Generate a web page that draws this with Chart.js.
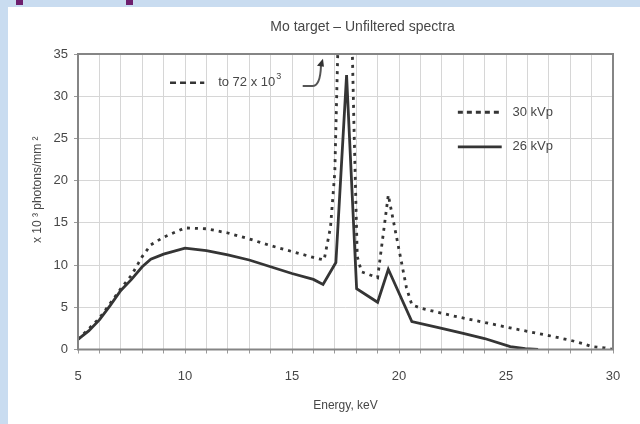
<!DOCTYPE html>
<html>
<head>
<meta charset="utf-8">
<script src="https://cdn.jsdelivr.net/npm/chart.js@4"></script>
<style>
  html, body { margin: 0; padding: 0; }
  body { width: 640px; height: 424px; background: #c9dcf0; position: relative; overflow: hidden; }
  .mark { position: absolute; top: 0; height: 5px; background: #6e1f6e; }
  #panel { position: absolute; left: 8px; top: 7px; width: 632px; height: 417px; background: #fff; }
</style>
</head>
<body>
<div class="mark" style="left:16px;width:7px"></div>
<div class="mark" style="left:126px;width:7px"></div>
<div id="panel"><canvas id="spectraChart" width="632" height="417"></canvas></div>
<script>
// 에너지(keV)와 광자 수 (x 10^3 photons/mm^2)
const energy30 = [5, 6, 7, 7.5, 8, 8.4, 9, 10, 11, 12, 13, 14, 15, 16, 16.5, 16.8, 17, 17.5, 17.9, 18.05, 18.25, 19, 19.5, 20.35, 20.6, 21, 22.5, 24, 25.5, 27, 28, 28.6, 29, 29.6, 30];
const flux30   = [1.2, 3.7, 7.2, 8.8, 11.0, 12.4, 13.3, 14.4, 14.3, 13.8, 13.1, 12.3, 11.6, 10.9, 10.6, 14.5, 21, 72, 26, 11, 9.2, 8.5, 18.3, 7.3, 5.3, 4.9, 4.0, 3.2, 2.4, 1.65, 1.1, 0.7, 0.35, 0.2, 0];

const energy26 = [5, 5.5, 6, 6.5, 7, 7.5, 8, 8.4, 9, 10, 11, 12, 13, 14, 15, 16, 16.45, 17.05, 17.55, 18.02, 19, 19.5, 20.6, 22, 23, 24, 25.2, 25.9, 26.5];
const flux26   = [1.2, 2.2, 3.5, 5.2, 7.0, 8.3, 9.8, 10.7, 11.3, 12.0, 11.7, 11.2, 10.6, 9.8, 9.0, 8.3, 7.7, 10.3, 32.5, 7.2, 5.6, 9.5, 3.3, 2.5, 1.9, 1.3, 0.35, 0.1, 0];

const seriesLabels = ['30 kVp', '26 kVp'];
const chartTitle = 'Mo target \u2013 Unfiltered spectra';
const xTitle = 'Energy, keV';
const yTitle = 'x 10 \u00B3 photons/mm \u00B2';

const TEXT = '#474747';
const LINE = '#353535';
const FONT = '"Liberation Sans", Arial, sans-serif';

const toPoints = (xs, ys) => xs.map((e, i) => ({ x: e, y: ys[i] }));

// 제목, 외곽선, 범례, 주석을 직접 그림
const decor = {
    id: 'decor',
    afterDraw(chart) {
        const { ctx, chartArea: a, scales: { x, y } } = chart;
        ctx.save();

        // 제목
        ctx.fillStyle = TEXT;
        ctx.font = `14px ${FONT}`;
        ctx.textAlign = 'center';
        ctx.textBaseline = 'middle';
        ctx.fillText(chartTitle, (a.left + a.right) / 2 + 17, 20);

        // y축 제목 (살짝 위쪽으로 치우침)
        ctx.save();
        ctx.translate(30, (a.top + a.bottom) / 2 - 12);
        ctx.rotate(-Math.PI / 2);
        ctx.font = `12px ${FONT}`;
        ctx.fillText(yTitle, 0, 0);
        ctx.restore();

        // 플롯 테두리
        ctx.strokeStyle = '#858585';
        ctx.lineWidth = 2;
        ctx.strokeRect(a.left, a.top, a.right - a.left, a.bottom - a.top);

        // 범례
        const legendRows = [{ v: 28.1, dash: [5, 4] }, { v: 24.0, dash: [] }];
        legendRows.forEach((row, i) => {
            const py = y.getPixelForValue(row.v);
            ctx.strokeStyle = LINE;
            ctx.lineWidth = 2.8;
            ctx.setLineDash(row.dash);
            ctx.beginPath();
            ctx.moveTo(x.getPixelForValue(22.75), py);
            ctx.lineTo(x.getPixelForValue(24.8), py);
            ctx.stroke();
            ctx.setLineDash([]);
            ctx.fillStyle = TEXT;
            ctx.font = `13px ${FONT}`;
            ctx.textAlign = 'left';
            ctx.fillText(seriesLabels[i], x.getPixelForValue(25.3), py);
        });

        // "to 72 x 10^3" 주석
        const ny = y.getPixelForValue(31.6);
        ctx.strokeStyle = LINE;
        ctx.lineWidth = 2.5;
        ctx.setLineDash([6, 4]);
        ctx.beginPath();
        ctx.moveTo(x.getPixelForValue(9.3), ny);
        ctx.lineTo(x.getPixelForValue(10.9), ny);
        ctx.stroke();
        ctx.setLineDash([]);

        ctx.fillStyle = TEXT;
        ctx.font = `13px ${FONT}`;
        ctx.textAlign = 'left';
        const tx = x.getPixelForValue(11.55);
        ctx.fillText('to 72 x 10', tx, ny);
        const tw = ctx.measureText('to 72 x 10').width;
        ctx.font = `9px ${FONT}`;
        ctx.fillText('3', tx + tw + 1, ny - 6);

        // 화살표
        const x0 = x.getPixelForValue(15.5), x1 = x.getPixelForValue(15.95), x2 = x.getPixelForValue(16.4);
        const yb = y.getPixelForValue(31.2), yt = y.getPixelForValue(34.2);
        ctx.strokeStyle = '#555';
        ctx.lineWidth = 2;
        ctx.beginPath();
        ctx.moveTo(x0, yb);
        ctx.lineTo(x1, yb);
        ctx.quadraticCurveTo(x1 + 8, yb, x2 - 1, yt + 5);
        ctx.stroke();
        ctx.fillStyle = '#333';
        ctx.beginPath();
        ctx.moveTo(x2 + 1, yt - 2);
        ctx.lineTo(x2 - 5, yt + 5);
        ctx.lineTo(x2 + 2, yt + 6);
        ctx.closePath();
        ctx.fill();

        ctx.restore();
    }
};

new Chart(document.getElementById('spectraChart'), {
    type: 'line',
    data: {
        datasets: [
            {
                label: seriesLabels[0],
                data: toPoints(energy30, flux30),
                borderColor: LINE,
                borderWidth: 2.8,
                borderDash: [3, 5],
                pointRadius: 0,
                fill: false,
                tension: 0
            },
            {
                label: seriesLabels[1],
                data: toPoints(energy26, flux26),
                borderColor: LINE,
                borderWidth: 2.8,
                pointRadius: 0,
                fill: false,
                tension: 0
            }
        ]
    },
    plugins: [decor],
    options: {
        responsive: false,
        animation: false,
        devicePixelRatio: 1,
        layout: { padding: { top: 47, right: 27, left: 0, bottom: 0 } },
        plugins: {
            legend: { display: false },
            title: { display: false },
            tooltip: { enabled: false }
        },
        scales: {
            x: {
                type: 'linear',
                min: 5,
                max: 30,
                afterFit: (s) => { s.height = 74.5; },
                border: { display: false },
                grid: { color: '#d6d6d6', lineWidth: 1, tickLength: 4, tickColor: '#9a9a9a' },
                ticks: {
                    stepSize: 1,
                    autoSkip: false,
                    maxRotation: 0,
                    padding: 15,
                    color: TEXT,
                    font: { family: FONT, size: 13 },
                    callback: (v) => (v % 5 === 0 ? v : '')
                },
                title: {
                    display: true,
                    text: xTitle,
                    color: TEXT,
                    font: { family: FONT, size: 12 },
                    padding: { top: 0, bottom: 11 }
                }
            },
            y: {
                min: 0,
                max: 35,
                afterFit: (s) => { s.width = 70; },
                border: { display: false },
                grid: { color: '#d6d6d6', lineWidth: 1, tickLength: 4, tickColor: '#9a9a9a' },
                ticks: {
                    stepSize: 5,
                    padding: 6,
                    color: TEXT,
                    font: { family: FONT, size: 13 }
                },
                title: { display: false }
            }
        }
    }
});
</script>
</body>
</html>
